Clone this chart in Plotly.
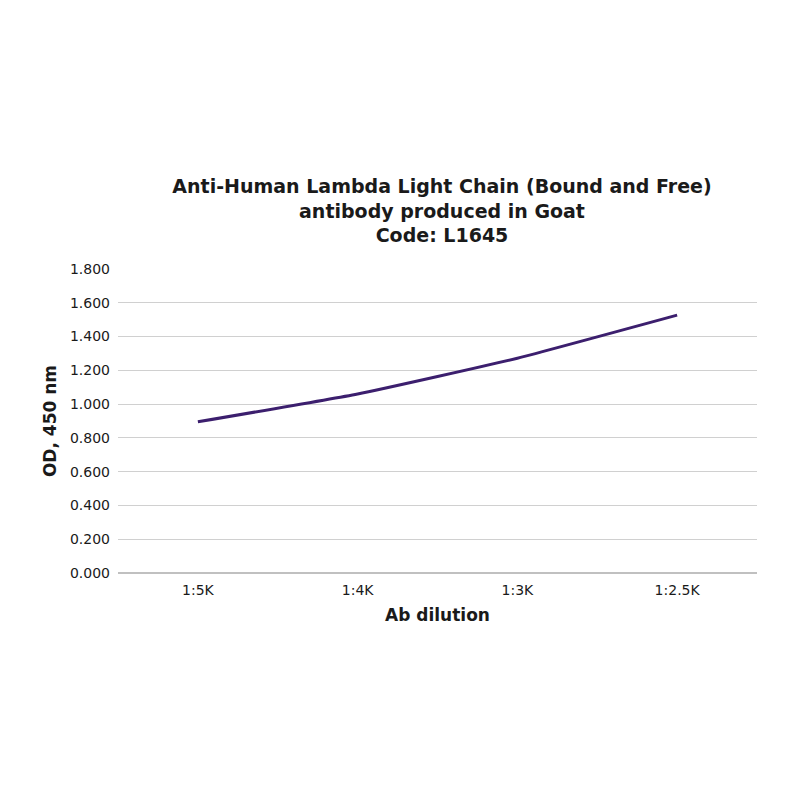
import plotly.graph_objects as go

DILUTIONS = ["1:5K", "1:4K", "1:3K", "1:2.5K"]
OD_450 = [0.895, 1.060, 1.272, 1.527]
Y_TICKS = [0.0, 0.2, 0.4, 0.6, 0.8, 1.0, 1.2, 1.4, 1.6, 1.8]
TITLE_LINES = [
    "Anti-Human Lambda Light Chain (Bound and Free)",
    "antibody produced in Goat",
    "Code: L1645",
]

FONT = "DejaVu Sans"
LINE_COLOR = "#3c1f6e"
GRID_COLOR = "#d0d0d0"

fig = go.Figure()
fig.add_trace(
    go.Scatter(
        x=DILUTIONS,
        y=OD_450,
        mode="lines",
        line={"color": LINE_COLOR, "width": 3, "shape": "spline", "smoothing": 0.4},
        showlegend=False,
    )
)

fig.update_layout(
    width=800,
    height=800,
    paper_bgcolor="white",
    plot_bgcolor="white",
    margin={"l": 110, "r": 51, "t": 261, "b": 235},
    font={"family": FONT, "color": "#1a1a1a"},
    title={
        "text": "<br>".join(TITLE_LINES),
        "x": 0.5425,
        "xanchor": "center",
        "y": 0.769,
        "yanchor": "middle",
        "font": {"size": 19, "family": FONT, "weight": "bold"},
    },
)
fig.update_xaxes(
    type="category",
    range=[-0.5, len(DILUTIONS) - 0.5],
    showgrid=False,
    showline=False,
    ticks="",
    tickfont={"size": 14},
    ticklabelstandoff=7,
    title={"text": "<b>Ab dilution</b>", "font": {"size": 17}, "standoff": 12},
)
fig.update_yaxes(
    range=[0, 1.8],
    tickvals=Y_TICKS,
    ticktext=[f"{v:.3f}" for v in Y_TICKS],
    tickfont={"size": 14},
    showgrid=True,
    gridcolor=GRID_COLOR,
    gridwidth=1,
    zeroline=True,
    zerolinecolor="#c0c0c0",
    zerolinewidth=2,
    showline=False,
    ticks="",
    ticklabelstandoff=7,
    title={"text": "<b>OD, 450 nm</b>", "font": {"size": 17}, "standoff": 8},
)

fig.write_html("out.html")
